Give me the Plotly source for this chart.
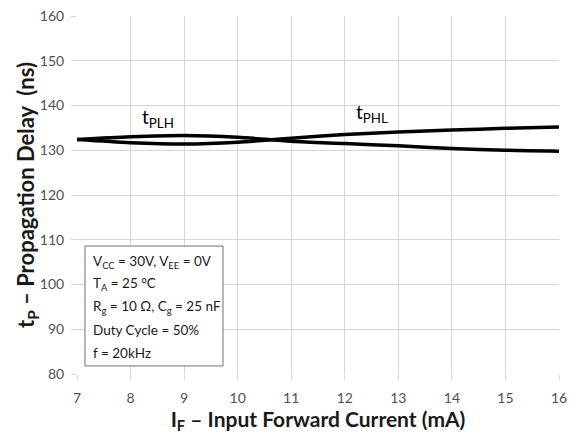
import plotly.graph_objects as go

current_mA = [7, 8, 9, 10, 11, 12, 13, 14, 15, 16]
tplh_ns = [132.4, 133.0, 133.3, 132.9, 132.0, 131.5, 131.0, 130.4, 130.0, 129.8]
tphl_ns = [132.4, 131.7, 131.4, 131.8, 132.7, 133.5, 134.1, 134.5, 134.9, 135.2]
x_ticks = [7, 8, 9, 10, 11, 12, 13, 14, 15, 16]
y_ticks = [80, 90, 100, 110, 120, 130, 140, 150, 160]
box_lines = ["V<sub>CC</sub> = 30V, V<sub>EE</sub> = 0V",
             "T<sub>A</sub> = 25 °C",
             "R<sub>g</sub> = 10 Ω, C<sub>g</sub> = 25 nF",
             "Duty Cycle = 50%",
             "f = 20kHz"]
box_line_y = [105.0, 100.1, 95.0, 89.8, 84.7]

FONT = "Lato"

fig = go.Figure()
for ys in (tplh_ns, tphl_ns):
    fig.add_trace(go.Scatter(x=current_mA, y=ys, mode="lines",
                             line=dict(color="black", width=3.5, shape="spline", smoothing=0.8),
                             showlegend=False, hoverinfo="skip"))

# page body has an 8px default margin; size figure so plot area lands where the reference has it
fig.update_layout(
    width=571, height=426,
    margin=dict(l=69, r=20, t=8, b=60, autoexpand=False),
    paper_bgcolor="white", plot_bgcolor="white",
    font=dict(family=FONT, color="#404040", size=14),
    xaxis=dict(range=[7, 16], tickvals=x_ticks, showgrid=True, gridcolor="#d4d4d4", gridwidth=1,
               zeroline=False, ticks="outside", ticklen=5, tickcolor="#d4d4d4",
               showline=False, tickfont=dict(size=14, color="#505050"), ticklabelstandoff=6,
               ticklabeloverflow="allow", automargin=False,
               title=dict(text="<b>I<sub>F</sub> – Input Forward Current (mA)</b>",
                          font=dict(size=21, color="#1a1a1a", family=FONT), standoff=5)),
    yaxis=dict(range=[80, 160], tickvals=y_ticks, showgrid=True, gridcolor="#d4d4d4", gridwidth=1,
               zeroline=False, ticks="outside", ticklen=5, tickcolor="#d4d4d4",
               showline=False, tickfont=dict(size=14, color="#505050"), ticklabelstandoff=4,
               ticklabeloverflow="allow", automargin=False),
)

fig.add_annotation(xref="paper", yref="paper", x=0, y=0.5, xshift=-50, xanchor="center",
                   yanchor="middle", textangle=-90, showarrow=False,
                   text="<b>t<sub>P</sub> – Propagation Delay  (ns)</b>",
                   font=dict(size=22, color="#1a1a1a", family=FONT))

fig.add_annotation(x=8.52, y=137.3, text="t<sub>PLH</sub>", showarrow=False,
                   font=dict(size=19, color="black", family=FONT))
fig.add_annotation(x=12.5, y=138.4, text="t<sub>PHL</sub>", showarrow=False,
                   font=dict(size=19, color="black", family=FONT))

fig.add_shape(type="rect", x0=7.149, x1=9.726, y0=81.8, y1=108.6,
              line=dict(color="#707070", width=1), fillcolor="white", layer="above")
for txt, yy in zip(box_lines, box_line_y):
    fig.add_annotation(x=7.26, y=yy, xanchor="left", yanchor="middle", text=txt,
                       showarrow=False, align="left",
                       font=dict(size=13.5, color="#1a1a1a", family=FONT))

fig.write_html("out.html")
